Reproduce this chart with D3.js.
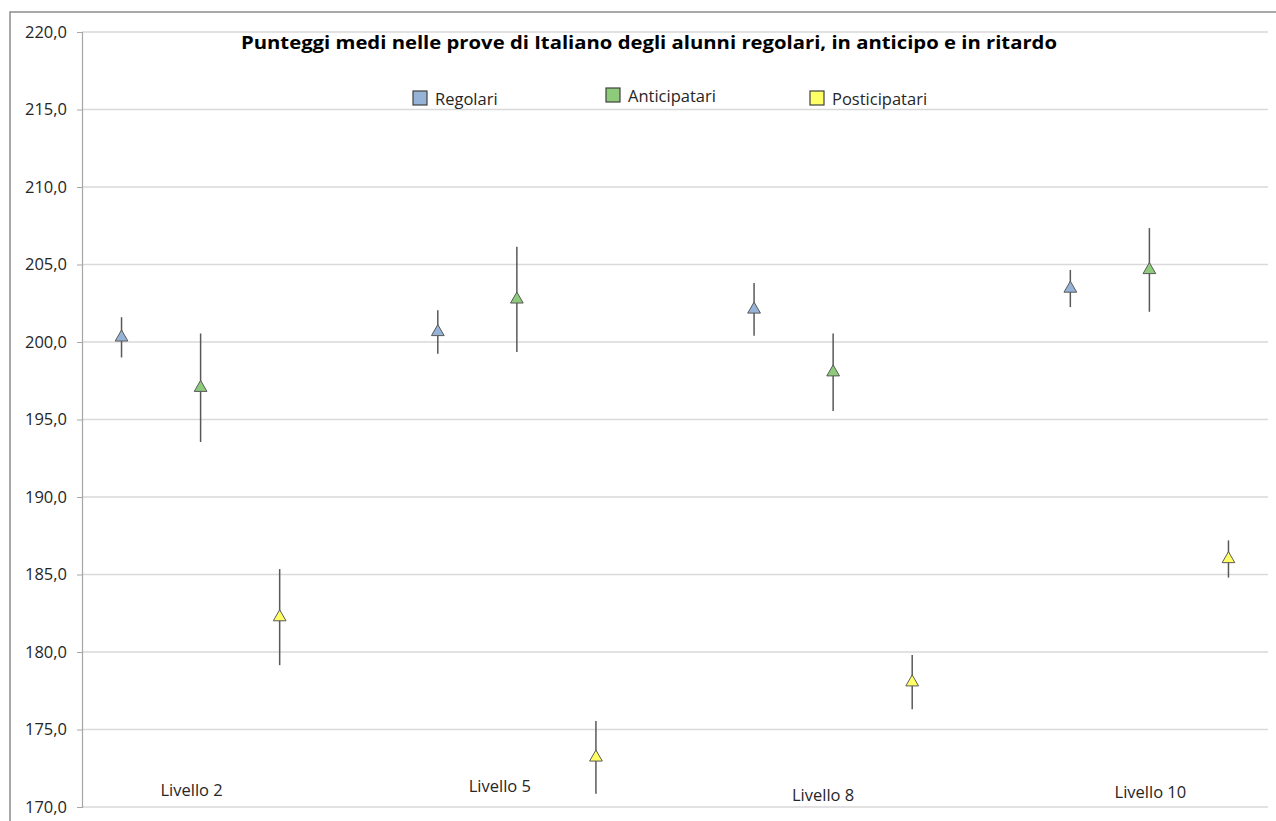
<!DOCTYPE html>
<html><head><meta charset="utf-8">
<script src="https://cdn.jsdelivr.net/npm/d3@7"></script>
<style>body{margin:0;background:#fff;} svg{display:block;font-family:"Open Sans",Lato,sans-serif;}</style>
</head><body>
<svg id="c" width="1276" height="821"></svg>
<script>
const title = "Punteggi medi nelle prove di Italiano degli alunni regolari, in anticipo e in ritardo";
const levels = ["Livello 2", "Livello 5", "Livello 8", "Livello 10"];
const seriesNames = ["Regolari", "Anticipatari", "Posticipatari"];
const seriesColors = ["#95b3d7", "#8dcb7b", "#ffff66"];
const regolari = [200.3, 200.65, 202.1, 203.45];
const regolariErr = [1.3, 1.4, 1.7, 1.2];
const anticipatari = [197.05, 202.75, 198.05, 204.65];
const anticipatariErr = [3.5, 3.4, 2.5, 2.7];
const posticipatari = [182.25, 173.2, 178.05, 186.0];
const posticipatariErr = [3.1, 2.35, 1.75, 1.2];
const yTicks = [170, 175, 180, 185, 190, 195, 200, 205, 210, 215, 220];

(function () {
const svg = d3.select("#c");
const pLeft = 82, pRight = 1268, pTop = 32, pBottom = 807;
const y = d3.scaleLinear().domain([170, 220]).range([pBottom, pTop]);
// 15 slots: 3 series per level plus one gap slot between levels
const slots = d3.range(15);
const x = d3.scaleBand().domain(slots).range([pLeft, pRight]).paddingInner(0).paddingOuter(0);
const slotOf = (li, si) => li * 4 + si;
const cx = s => x(s) + x.bandwidth() / 2;

// outer frame
svg.append("rect").attr("x", 10).attr("y", 12).attr("width", 1300).attr("height", 900)
  .attr("fill", "none").attr("stroke", "#8c8c8c").attr("stroke-width", 1.5);

// gridlines
svg.append("g").selectAll("line").data(yTicks).join("line")
  .attr("x1", pLeft).attr("x2", pRight).attr("y1", d => y(d)).attr("y2", d => y(d))
  .attr("stroke", "#d9d9d9").attr("stroke-width", 1.6);

// y axis
const fmt = d => d.toFixed(1).replace(".", ",");
const ax = svg.append("g").attr("transform", `translate(${pLeft},0)`)
  .call(d3.axisLeft(y).tickValues(yTicks).tickFormat(fmt).tickSize(5).tickPadding(10));
ax.select(".domain").attr("stroke", "#a6a6a6").attr("stroke-width", 1.2);
ax.selectAll(".tick line").attr("stroke", "#a6a6a6");
ax.selectAll(".tick text").attr("fill", "#262626").attr("font-size", null)
  .style("font-size", "16.5px").style("font-family", "'Open Sans', sans-serif");

// data rows
const means = [regolari, anticipatari, posticipatari];
const errs = [regolariErr, anticipatariErr, posticipatariErr];
const pts = [];
means.forEach((arr, si) => arr.forEach((v, li) => pts.push({si, li, v, e: errs[si][li]})));

const g = svg.append("g");
g.selectAll("line.err").data(pts).join("line").attr("class", "err")
  .attr("x1", d => cx(slotOf(d.li, d.si))).attr("x2", d => cx(slotOf(d.li, d.si)))
  .attr("y1", d => y(d.v + d.e)).attr("y2", d => y(d.v - d.e))
  .attr("stroke", "#595959").attr("stroke-width", 1.5);

const tri = d3.symbol().type(d3.symbolTriangle).size(70);
g.selectAll("path.pt").data(pts).join("path").attr("class", "pt")
  .attr("d", tri)
  .attr("transform", d => `translate(${cx(slotOf(d.li, d.si))},${y(d.v)})`)
  .attr("fill", d => seriesColors[d.si]).attr("stroke", "#595959").attr("stroke-width", 1);

// level labels (text boxes in original, slightly offset)
const lblDx = [-9, -17, -10, 1];
const lblY = [790, 786, 795, 792];
svg.append("g").selectAll("text").data(levels).join("text")
  .attr("x", (d, i) => cx(slotOf(i, 1)) + lblDx[i]).attr("y", (d, i) => lblY[i] + 6)
  .attr("text-anchor", "middle").attr("fill", "#262626").style("font-size", "16.5px").text(d => d);

// title
svg.append("text").attr("x", 649).attr("y", 49).attr("text-anchor", "middle")
  .attr("fill", "#000").style("font-size", "17px").style("font-weight", "bold")
  .attr("textLength", 816).attr("lengthAdjust", "spacingAndGlyphs").text(title);

// legend
const legX = [413, 606, 810];
const leg = svg.append("g").selectAll("g").data(seriesNames).join("g")
  .attr("transform", (d, i) => `translate(${legX[i]},${i === 1 ? 88 : 91})`);
leg.append("rect").attr("width", 14).attr("height", 14)
  .attr("fill", (d, i) => seriesColors[i]).attr("stroke", "#404040").attr("stroke-width", 1.2);
leg.append("text").attr("x", 22).attr("y", 14).attr("fill", "#262626")
  .style("font-size", "16.5px").text(d => d);
})();
</script>
</body></html>
